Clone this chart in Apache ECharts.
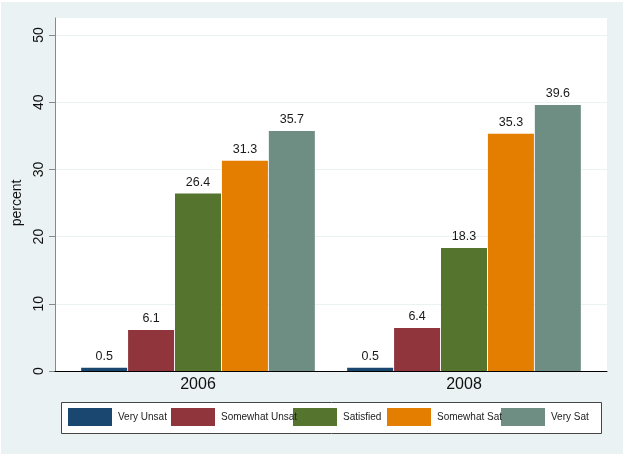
<!DOCTYPE html>
<html><head><meta charset="utf-8">
<script src="https://cdn.jsdelivr.net/npm/echarts@6/dist/echarts.min.js"></script>
<style>html,body{margin:0;padding:0;background:#fff}#c{width:626px;height:457px}</style>
</head><body><div id="c"></div>
<script>
const categories = ['2006', '2008'];
const seriesNames = ['Very Unsat', 'Somewhat Unsat', 'Satisfied', 'Somewhat Sat', 'Very Sat'];
const veryUnsat = [0.5, 0.5];
const somewhatUnsat = [6.1, 6.4];
const satisfied = [26.4, 18.3];
const somewhatSat = [31.3, 35.3];
const verySat = [35.7, 39.6];
const yMin = 0, yMax = 50, yStep = 10;

const seriesValues = [veryUnsat, somewhatUnsat, satisfied, somewhatSat, verySat];
const colors = ['#1a476f', '#90353b', '#55752f', '#e37e00', '#6e8e84'];
const legendLefts = [68, 171, 293, 387, 501];
const FONT = "'Liberation Sans', Arial, Helvetica, sans-serif";

const chart = echarts.init(document.getElementById('c'), null, {renderer: 'canvas'});
const option = {
  animation: false,
  backgroundColor: '#ffffff',
  textStyle: {fontFamily: FONT},
  graphic: [
    {type: 'rect', left: 1, top: 2, z: -20, silent: true,
     shape: {width: 622, height: 452}, style: {fill: '#eaf2f3'}},
    {type: 'rect', left: 61, top: 402, z: -1,
     shape: {width: 540, height: 31},
     style: {fill: '#ffffff', stroke: '#444', lineWidth: 1}}
  ],
  grid: [
    {left: 55, right: 19, top: 18, bottom: 86, show: true, backgroundColor: '#ffffff', borderWidth: 0},
    {left: 55, right: 19, top: 35, bottom: 86},
    {left: 65, right: 29, top: 35, bottom: 86}
  ],
  xAxis: [
    {gridIndex: 0, type: 'category', data: categories, z: 5,
     axisLine: {show: true, lineStyle: {color: '#000', width: 1}},
     axisTick: {show: false}, axisLabel: {show: false}, splitLine: {show: false}},
    {gridIndex: 1, type: 'category', data: categories, show: false},
    {gridIndex: 2, type: 'category', data: categories,
     axisLine: {show: false}, axisTick: {show: false},
     axisLabel: {fontSize: 16, color: '#111', margin: 6, fontFamily: FONT}}
  ],
  yAxis: [
    {gridIndex: 0, type: 'value', min: yMin, max: yMax + 2.5, z: 5,
     axisLine: {show: true, lineStyle: {color: '#888', width: 1}},
     axisTick: {show: false}, axisLabel: {show: false}, splitLine: {show: false}},
    {gridIndex: 1, type: 'value', min: yMin, max: yMax, interval: yStep,
     name: 'percent', nameLocation: 'middle', nameGap: 16,
     nameTextStyle: {fontSize: 14, color: '#111', fontFamily: FONT},
     axisLine: {show: false},
     axisTick: {show: true, length: 6, lineStyle: {color: '#888'}},
     axisLabel: {rotate: 90, fontSize: 14, color: '#111', margin: 9, fontFamily: FONT},
     splitLine: {show: true, lineStyle: {color: '#eaf2f3', width: 1}}},
    {gridIndex: 2, type: 'value', min: yMin, max: yMax, show: false, splitLine: {show: false}}
  ],
  legend: seriesNames.map((n, i) => ({
    data: [n], left: legendLefts[i], top: 408, padding: 0, z: 4 - i,
    itemWidth: 44, itemHeight: 18, itemGap: 0,
    icon: 'rect', selectedMode: false,
    textStyle: {fontSize: 10, color: '#222', fontFamily: FONT, padding: [2, 0, 0, 1]}
  })),
  series: seriesNames.map((n, i) => ({
    name: n, type: 'bar', xAxisIndex: 2, yAxisIndex: 2,
    data: seriesValues[i], barWidth: 46, barGap: '2%',
    itemStyle: {color: colors[i]},
    label: {show: true, position: 'top', distance: 5, fontSize: 12.5, color: '#1a1a1a',
            fontFamily: FONT, formatter: p => p.value.toFixed(1)}
  }))
};
chart.setOption(option);
</script></body></html>
